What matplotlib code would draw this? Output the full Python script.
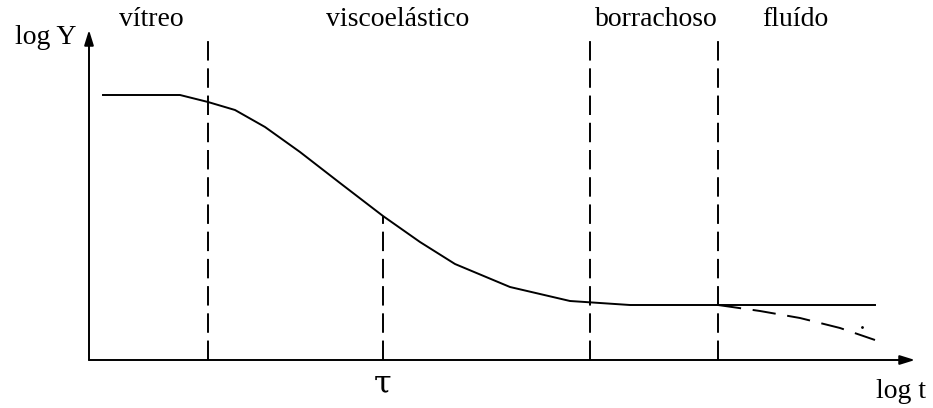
import matplotlib.pyplot as plt

# curva de relaxação (log Y vs log t), unidades arbitrárias a partir da origem
log_t = [14, 91, 119, 146, 176, 211, 251, 294, 331, 366, 421, 481, 541, 629, 786]
log_y = [265, 265, 258, 250, 233, 208, 177, 144, 118, 96, 73, 59, 55, 55, 55]

# ramo tracejado (escoamento) depois da zona borrachosa
flow_t = [629, 671, 711, 751, 786]
flow_y = [55, 49, 42, 32, 20]

# divisões entre as zonas e o tempo de relaxação tau
zone_bounds = [119, 501, 629]
zone_top = 320
tau_t = 294
tau_y = 144

zone_names = ["vítreo", "viscoelástico", "borrachoso", "fluído"]
zone_label_t = [62, 309, 567, 706]

plt.rcParams['font.family'] = ['Liberation Serif', 'DejaVu Serif']

fig = plt.figure(figsize=(9.33, 4.08), dpi=100)
ax = fig.add_axes([0, 0, 1, 1])
ax.set_xlim(-89, 844)
ax.set_ylim(-48, 360)
ax.axis('off')

lw = 1.4
dash = (10, 4)
head = "-|>,head_length=0.9,head_width=0.28"

# eixos com setas
ax.annotate("", xy=(0, 330), xytext=(0, 0),
            arrowprops=dict(arrowstyle=head, color="black", lw=lw, shrinkA=0, shrinkB=0))
ax.annotate("", xy=(826, 0), xytext=(0, 0),
            arrowprops=dict(arrowstyle=head, color="black", lw=lw, shrinkA=0, shrinkB=0))

# linhas verticais tracejadas
for xb in zone_bounds:
    ax.plot([xb, xb], [0, zone_top], color="black", lw=lw, dashes=dash)
ax.plot([tau_t, tau_t], [0, tau_y], color="black", lw=lw, dashes=dash)

# curva
ax.plot(log_t, log_y, color="black", lw=lw, solid_joinstyle="round")
ax.plot(flow_t, flow_y, color="black", lw=lw, dashes=(12, 6))
ax.plot([773], [33], marker='.', color="black", markersize=2)

# textos
for name, xt in zip(zone_names, zone_label_t):
    ax.text(xt, 340, name, ha="center", va="center", fontsize=20)
ax.text(-13, 323, "log Y", ha="right", va="center", fontsize=20)
ax.text(812, -32, "log t", ha="center", va="center", fontsize=20)
ax.text(tau_t, -24, "τ", ha="center", va="center", fontsize=23, family=['DejaVu Serif'])

fig.savefig("out.png", dpi=100)
